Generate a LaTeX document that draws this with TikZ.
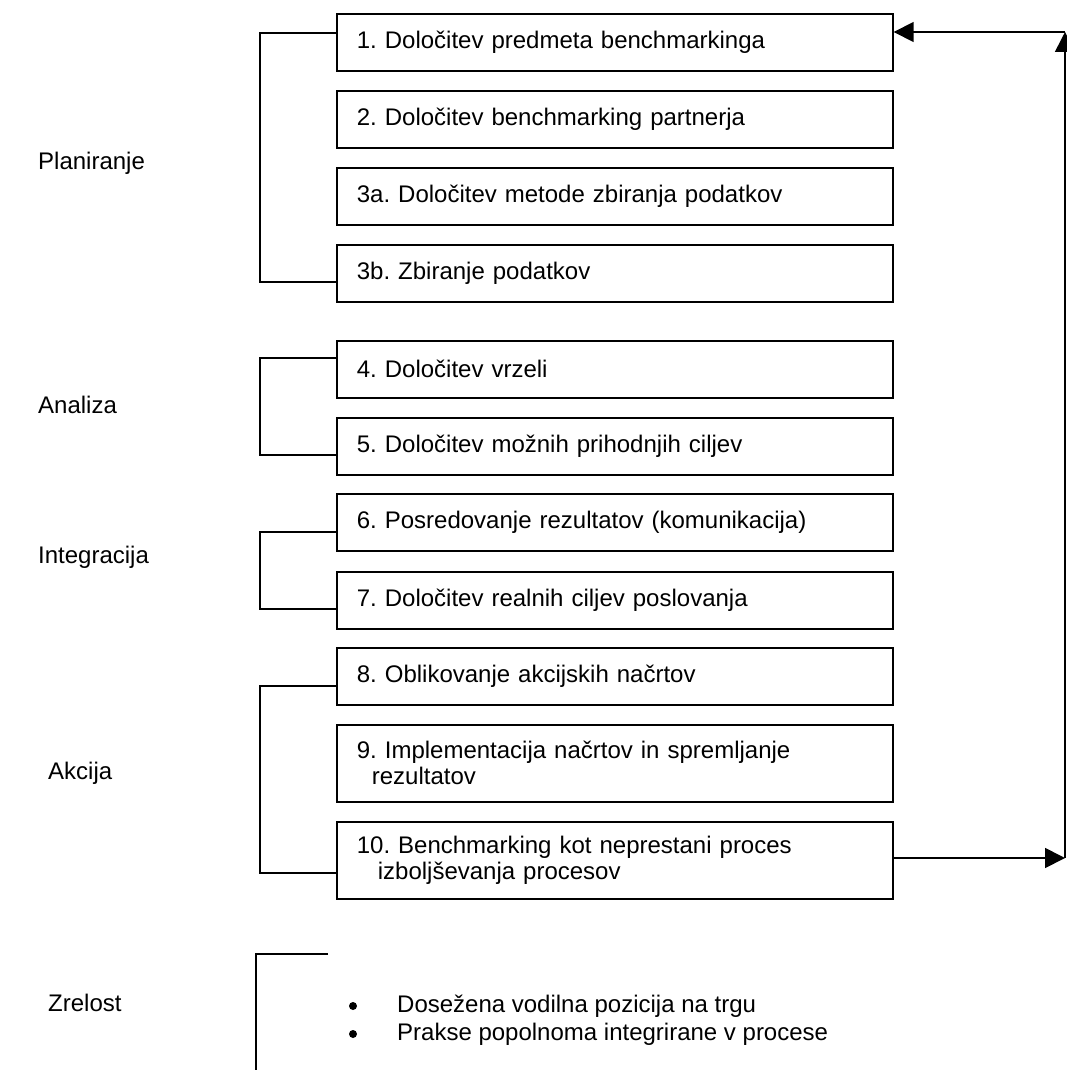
\documentclass[tikz,border=0pt]{standalone}
\usepackage{fontspec}
\setmainfont{Liberation Sans}
\usetikzlibrary{arrows.meta}
\frenchspacing
\begin{document}
\begin{tikzpicture}[x=1pt,y=-1pt,
  txt/.style={font=\fontsize{24}{26}\selectfont},
  stepbox/.style={txt,draw,line width=1.7pt,anchor=north west,minimum height=57pt,
    text width=516pt,inner xsep=20pt,inner ysep=0pt,align=left},
  tallbox/.style={stepbox,minimum height=77pt},
  phase/.style={txt,anchor=west,inner sep=0pt},
  dot/.style={circle,fill,inner sep=0pt,minimum size=8pt},
  link/.style={line width=1.7pt},
  loop/.style={line width=1.7pt,-{Triangle[length=20pt,width=20pt]}}]
\useasboundingbox (0,0) rectangle (1067,1070);

% steps
\node[stepbox] (b1)  at (336,13)  {1. Določitev predmeta benchmarkinga};
\node[stepbox] (b2)  at (336,90)  {2. Določitev benchmarking partnerja};
\node[stepbox] (b3a) at (336,167) {3a. Določitev metode zbiranja podatkov};
\node[stepbox] (b3b) at (336,244) {3b. Zbiranje podatkov};
\node[stepbox] (b4)  at (336,340) {4. Določitev vrzeli};
\node[stepbox] (b5)  at (336,417) {5. Določitev možnih prihodnjih ciljev};
\node[stepbox] (b6)  at (336,493) {6. Posredovanje rezultatov (komunikacija)};
\node[stepbox] (b7)  at (336,571) {7. Določitev realnih ciljev poslovanja};
\node[stepbox] (b8)  at (336,647) {8. Oblikovanje akcijskih načrtov};
\node[tallbox] (b9)  at (336,724) {9. Implementacija načrtov in spremljanje\\\hspace*{15pt}rezultatov};
\node[tallbox] (b10) at (336,821) {10. Benchmarking kot neprestani proces\\\hspace*{21pt}izboljševanja procesov};

% phases
\node[phase] (planiranje)  at (38,163)  {Planiranje};
\node[phase] (analiza)     at (38,405)  {Analiza};
\node[phase] (integracija) at (38,557)  {Integracija};
\node[phase] (akcija)      at (48,773)  {Akcija};
\node[phase] (zrelost)     at (48,1003) {Zrelost};

% phase brackets
\coordinate (pl1) at (260,33);  \coordinate (pl2) at (260,282);
\coordinate (an1) at (260,358); \coordinate (an2) at (260,455);
\coordinate (in1) at (260,532); \coordinate (in2) at (260,609);
\coordinate (ak1) at (260,686); \coordinate (ak2) at (260,873);
\draw[link] (b1.west |- pl1) -- (pl1) -- (pl2) -- (b3b.west |- pl2);
\draw[link] (b4.west |- an1) -- (an1) -- (an2) -- (b5.west |- an2);
\draw[link] (b6.west |- in1) -- (in1) -- (in2) -- (b7.west |- in2);
\draw[link] (b8.west |- ak1) -- (ak1) -- (ak2) -- (b10.west |- ak2);

% maturity bracket and list
\coordinate (zr1) at (328,954);
\coordinate (zr2) at (256,954);
\coordinate (zr3) at (256,1070);
\draw[link] (zr1) -- (zr2) -- (zr3);
\node[dot] (d1) at (353,1006) {};
\node[dot] (d2) at (353,1034) {};
\node[phase] (m1) at (397,1006) {Dosežena vodilna pozicija na trgu};
\node[phase] (m2) at (397,1034) {Prakse popolnoma integrirane v procese};

% feedback loop
\coordinate (r1) at (1065,858);
\coordinate (r2) at (1065,32);
\draw[loop] (b10.east |- r1) -- (r1);
\draw[loop] (r1) -- (r2);
\draw[loop] (r2) -- (b1.east |- r2);
\end{tikzpicture}
\end{document}
